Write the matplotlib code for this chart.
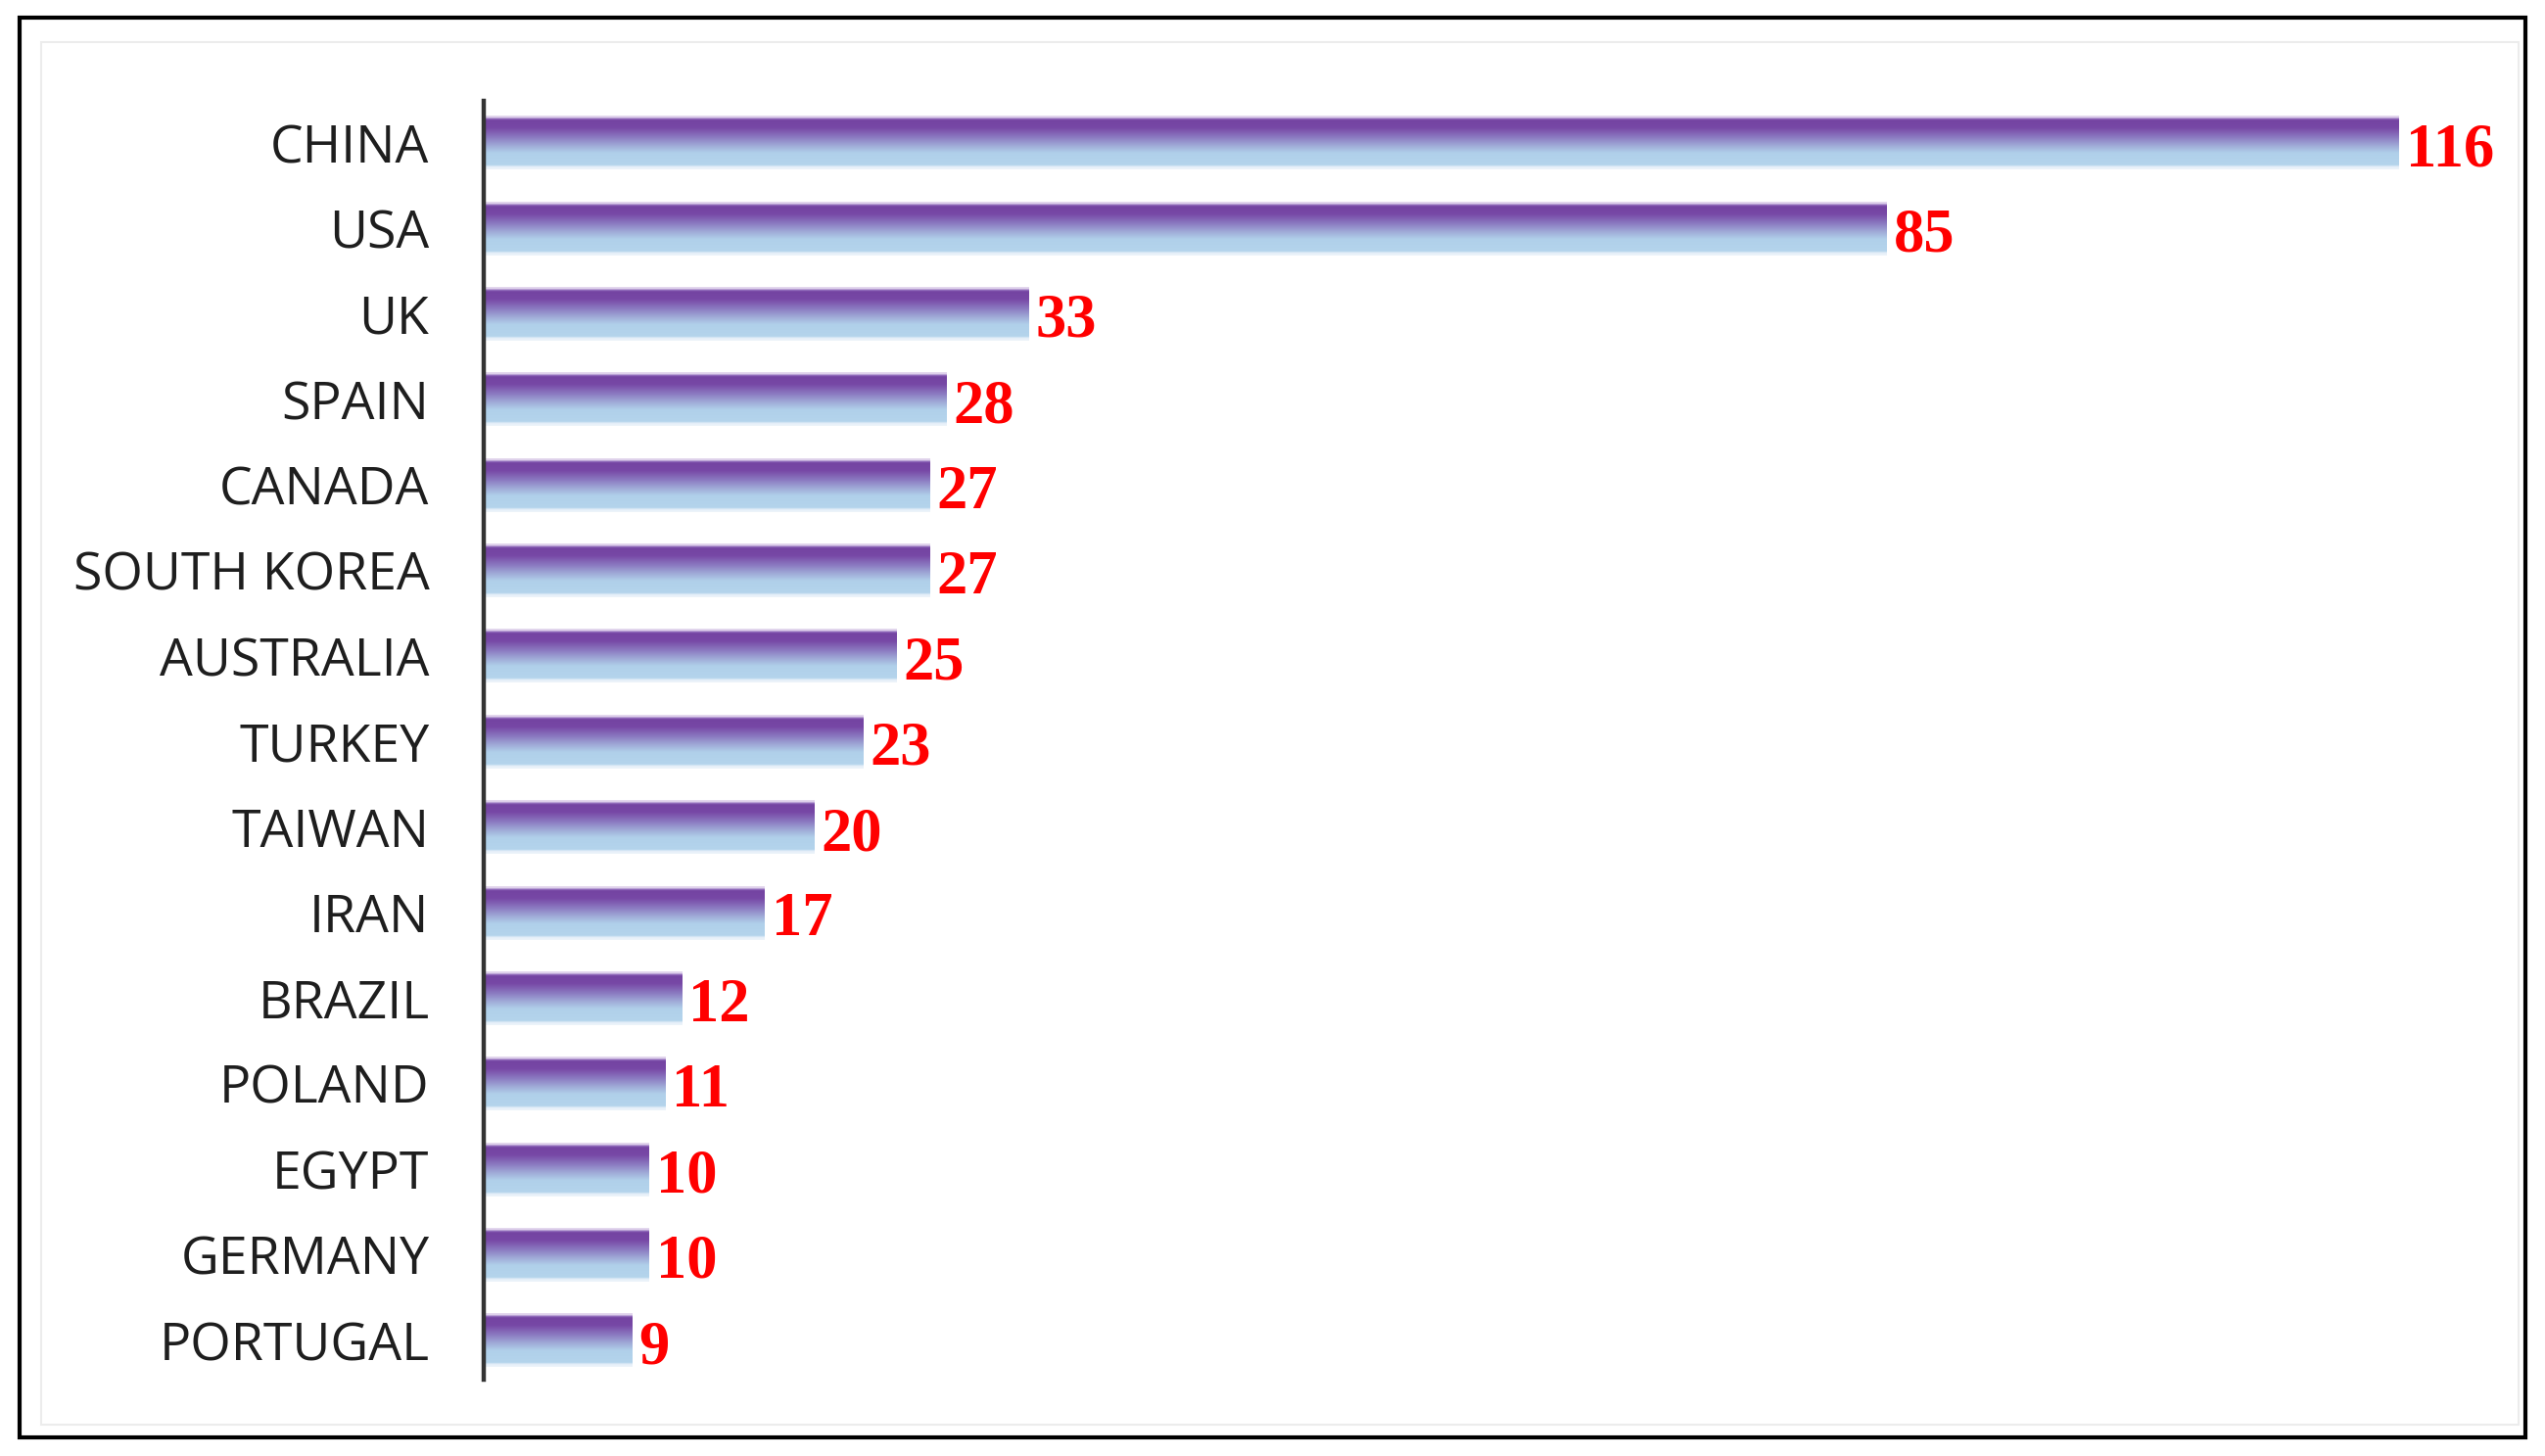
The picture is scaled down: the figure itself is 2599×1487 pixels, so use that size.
import numpy as np
import matplotlib
matplotlib.use("Agg")
import matplotlib.pyplot as plt
from matplotlib.colors import LinearSegmentedColormap, to_rgb
from matplotlib.patches import Rectangle

countries = ["CHINA", "USA", "UK", "SPAIN", "CANADA", "SOUTH KOREA", "AUSTRALIA",
             "TURKEY", "TAIWAN", "IRAN", "BRAZIL", "POLAND", "EGYPT", "GERMANY", "PORTUGAL"]
counts = [116, 85, 33, 28, 27, 27, 25, 23, 20, 17, 12, 11, 10, 10, 9]

W, H = 2599, 1487
fig = plt.figure(figsize=(W / 100, H / 100), dpi=100)
fig.patch.set_facecolor("white")

# outer frame and faint inner frame
fig.add_artist(Rectangle((20 / W, 19 / H), 2559 / W, 1450 / H, transform=fig.transFigure,
                         fill=False, edgecolor="black", linewidth=3.0))
fig.add_artist(Rectangle((42 / W, 32 / H), 2530 / W, 1412 / H, transform=fig.transFigure,
                         fill=False, edgecolor="#ececec", linewidth=1.5))

ax = fig.add_axes([494 / W, 1 - 1409 / H, 2023 / W, (1409 - 103) / H])
ax.set_facecolor("none")

y = np.arange(len(countries))
bar_h = 0.63
bars = ax.barh(y, counts, height=bar_h, facecolor="none", edgecolor="none")

# vertical gradient (top -> bottom)
stops = [
    (0.00, "#e6dbef"),
    (0.05, "#e0d4ec"),
    (0.07, "#9a78c2"),
    (0.10, "#7444a2"),
    (0.24, "#7748a6"),
    (0.42, "#8c7cc2"),
    (0.57, "#a0acd8"),
    (0.70, "#b0d0ea"),
    (0.92, "#b4d4ec"),
    (0.95, "#e4eef8"),
    (1.00, "#eef4fa"),
]
cmap = LinearSegmentedColormap.from_list("barg", [(p, to_rgb(c)) for p, c in stops])
grad = cmap(np.linspace(0, 1, 256))[:, None, :3]

for b in bars:
    x0, y0, w, h = b.get_x(), b.get_y(), b.get_width(), b.get_height()
    im = ax.imshow(grad, extent=(x0, x0 + w, y0 + h, y0), aspect="auto",
                   interpolation="bilinear", zorder=2)
    im.set_clip_path(b)

for yi, v in zip(y, counts):
    ax.annotate(str(v), xy=(v, yi), xytext=(5, -6), textcoords="offset points",
                ha="left", va="center", color="#ff0000", fontsize=45,
                fontweight="bold", family="Liberation Serif")

ax.set_xlim(0, 120)
ax.set_ylim(14.46, -0.49)
ax.set_yticks(y)
ax.set_yticklabels(countries, family="Open Sans", fontsize=38.5, color="#1e1e1e")
ax.tick_params(axis="y", length=0, pad=40)
ax.set_xticks([])
for s in ["top", "right", "bottom"]:
    ax.spines[s].set_visible(False)
ax.spines["left"].set_linewidth(3.2)
ax.spines["left"].set_color("#333333")

fig.savefig("out.png", dpi=100, facecolor="white")
